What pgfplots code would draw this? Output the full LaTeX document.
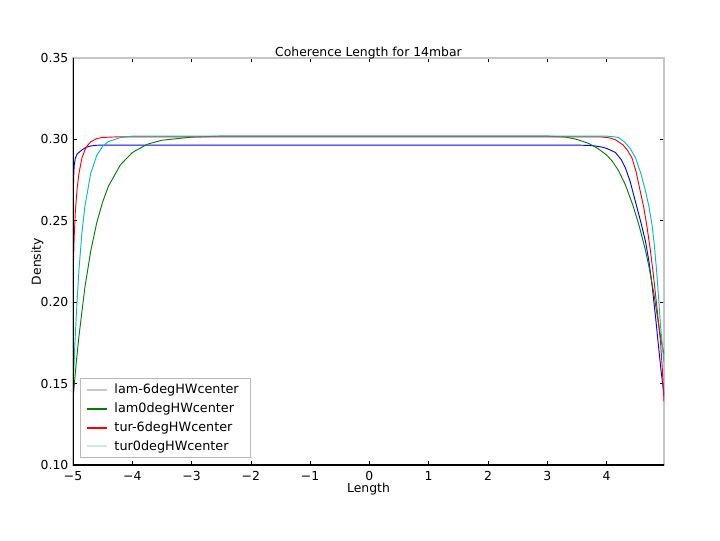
\documentclass[border=0pt]{standalone}
\usepackage{fontspec}
\setmainfont{DejaVu Sans}
\usepackage{pgfplots}
\pgfplotsset{compat=1.18}
\definecolor{mblue}{rgb}{0,0,1}
\definecolor{mgreen}{rgb}{0,0.5,0}
\definecolor{mred}{rgb}{1,0,0}
\definecolor{mcyan}{rgb}{0,0.75,0.75}
\definecolor{lblue}{HTML}{C4C4F2}
\definecolor{lcyan}{HTML}{C8ECEC}
\newcommand{\ff}{\fontsize{9.3}{11}\selectfont}
\newcommand{\lf}{\fontsize{9.6}{12}\selectfont}
\begin{document}
\begin{tikzpicture}
\path[use as bounding box] (0,0) rectangle (540pt,405pt);
\begin{axis}[
  at={(54.75pt,56.25pt)}, anchor=south west,
  scale only axis, width=443.25pt, height=305.25pt,
  xmin=-5, xmax=4.97, ymin=0.10, ymax=0.35,
  xtick={-5,-4,-3,-2,-1,0,1,2,3,4},
  xticklabels={−5,−4,−3,−2,−1,0,1,2,3,4},
  ytick={0.10,0.15,0.20,0.25,0.30,0.35},
  yticklabels={0.10,0.15,0.20,0.25,0.30,0.35},
  tick align=inside, major tick length=3pt,
  tick style={black, line width=0.5pt},
  ticklabel style={font=\ff},
  xticklabel style={yshift=-1pt},
  axis line style={draw=gray!45, line width=0.9pt},
  title={Coherence Length for 14mbar},
  title style={font=\ff, yshift=-10pt},
  xlabel={Length}, ylabel={Density},
  label style={font=\ff},
  xlabel style={yshift=5pt},
  ylabel style={yshift=-9pt},
  legend style={at={(0.012,0.017)}, anchor=south west, draw=gray!55, line width=0.8pt,
    font=\lf, row sep=1.3pt, inner xsep=4pt, inner ysep=2pt,
    nodes={inner xsep=5pt}},
  legend cell align=left,
  every axis plot/.append style={line width=0.7pt},
]
\addplot[mblue, forget plot] coordinates {
(-5,0.240) (-4.995,0.262) (-4.99,0.276) (-4.98,0.284) (-4.96,0.2885) (-4.93,0.291)
(-4.9,0.292) (-4.85,0.2935) (-4.8,0.2947) (-4.75,0.2955) (-4.7,0.2960) (-4.6,0.2964)
(-4.5,0.2965) (0,0.2965) (3.5,0.2965) (3.7,0.2963) (3.8,0.2960) (3.92,0.2953)
(4.0,0.2945) (4.15,0.292) (4.25,0.2875) (4.32,0.2824) (4.4,0.274) (4.49,0.2615)
(4.58,0.249) (4.66,0.237) (4.72,0.224) (4.77,0.210) (4.83,0.190) (4.88,0.172)
(4.92,0.158) (4.95,0.149) (4.97,0.143)
};
\addplot[mgreen, forget plot] coordinates {
(-5,0.140) (-4.95,0.161) (-4.9,0.179) (-4.8,0.209) (-4.7,0.2316) (-4.6,0.2487)
(-4.5,0.2616) (-4.4,0.2714) (-4.2,0.2844) (-4.0,0.2919) (-3.75,0.2970) (-3.5,0.2995)
(-3.0,0.3014) (-2.5,0.302) (0,0.302) (3.0,0.302) (3.3,0.3015) (3.5,0.3000)
(3.7,0.2975) (3.85,0.2945) (4.0,0.2905) (4.1,0.2865) (4.2,0.281) (4.32,0.272)
(4.45,0.259) (4.55,0.247) (4.65,0.233) (4.71,0.223) (4.8,0.205) (4.88,0.186)
(4.93,0.175) (4.97,0.168)
};
\addplot[mred, forget plot] coordinates {
(-5,0.215) (-4.98,0.240) (-4.96,0.256) (-4.93,0.270) (-4.9,0.279) (-4.85,0.2885)
(-4.8,0.2935) (-4.75,0.2965) (-4.7,0.2985) (-4.6,0.3005) (-4.5,0.3012) (-4.3,0.3015)
(0,0.3015) (3.9,0.3015) (4.0,0.3012) (4.06,0.3008) (4.15,0.2998) (4.28,0.2966)
(4.35,0.2935) (4.43,0.2886) (4.5,0.280) (4.57,0.268) (4.63,0.258) (4.68,0.247)
(4.74,0.232) (4.79,0.217) (4.85,0.197) (4.91,0.176) (4.94,0.160) (4.97,0.139)
};
\addplot[mcyan, forget plot] coordinates {
(-5,0.145) (-4.97,0.173) (-4.94,0.195) (-4.9,0.2196) (-4.85,0.2424) (-4.8,0.2588)
(-4.7,0.2793) (-4.6,0.2901) (-4.5,0.2958) (-4.4,0.2987) (-4.2,0.3011) (-4.0,0.302)
(0,0.302) (4.0,0.302) (4.15,0.3015) (4.21,0.301) (4.3,0.2985) (4.4,0.2945)
(4.49,0.2886) (4.58,0.279) (4.66,0.268) (4.72,0.258) (4.77,0.247) (4.81,0.234)
(4.85,0.217) (4.88,0.202) (4.91,0.186) (4.94,0.174) (4.97,0.163)
};
\addlegendimage{legend image code/.code={\draw[lblue, line width=1.4pt] (0pt,0pt) -- (15pt,0pt);}}
\addlegendentry{lam-6degHWcenter}
\addlegendimage{legend image code/.code={\draw[mgreen, line width=1.4pt] (0pt,0pt) -- (15pt,0pt);}}
\addlegendentry{lam0degHWcenter}
\addlegendimage{legend image code/.code={\draw[mred, line width=1.4pt] (0pt,0pt) -- (15pt,0pt);}}
\addlegendentry{tur-6degHWcenter}
\addlegendimage{legend image code/.code={\draw[lcyan, line width=1.4pt] (0pt,0pt) -- (15pt,0pt);}}
\addlegendentry{tur0degHWcenter}
\draw[black, line width=0.9pt] (rel axis cs:0,1) -- (rel axis cs:0,0) -- (rel axis cs:1,0);
\end{axis}
\end{tikzpicture}
\end{document}
